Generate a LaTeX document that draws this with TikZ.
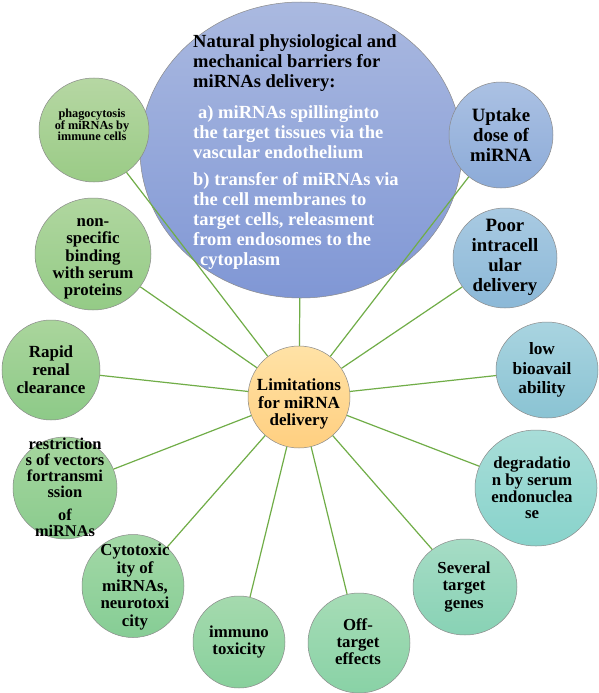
\documentclass[tikz,border=0pt]{standalone}
\usepackage{fontspec}
\setmainfont{Liberation Serif}
\usetikzlibrary{shapes.geometric}
\definecolor{linkgreen}{HTML}{70AD47}
\definecolor{rimgray}{HTML}{8A8A8A}
\definecolor{bigT}{HTML}{AAB9E0}\definecolor{bigB}{HTML}{8097D5}
\definecolor{ctrT}{HTML}{FFE2A6}\definecolor{ctrB}{HTML}{FFCF80}
\definecolor{phT}{HTML}{B6D7A3}\definecolor{phB}{HTML}{9ACB86}
\definecolor{nsT}{HTML}{B0D69F}\definecolor{nsB}{HTML}{94CB86}
\definecolor{rrT}{HTML}{AAD59C}\definecolor{rrB}{HTML}{8DCA88}
\definecolor{reT}{HTML}{A6D69E}\definecolor{reB}{HTML}{8ACB8E}
\definecolor{cyT}{HTML}{A3D8A6}\definecolor{cyB}{HTML}{86CD95}
\definecolor{imT}{HTML}{A5DAAE}\definecolor{imB}{HTML}{88D09C}
\definecolor{ofT}{HTML}{A6DCB6}\definecolor{ofB}{HTML}{89D2A6}
\definecolor{svT}{HTML}{A6DCC5}\definecolor{svB}{HTML}{88D2B5}
\definecolor{dgT}{HTML}{A8DDD8}\definecolor{dgB}{HTML}{88D3CB}
\definecolor{lbT}{HTML}{A9D4E0}\definecolor{lbB}{HTML}{8AC3D3}
\definecolor{pwT}{HTML}{A9CAE2}\definecolor{pwB}{HTML}{8BB8D7}
\definecolor{upT}{HTML}{ABC1E3}\definecolor{upB}{HTML}{8CABD8}
\tikzset{
  bub/.style n args={4}{ellipse, draw=rimgray, line width=0.5pt,
    top color=#1, bottom color=#2, minimum width=#3, minimum height=#4, inner sep=0pt},
  txt/.style 2 args={font={\bfseries\fontsize{#1}{#2}\selectfont}, align=center, inner sep=0pt},
  bigtxt/.style={font={\bfseries\fontsize{18.5}{20}\selectfont}, align=left, inner sep=0pt, anchor=west},
  link/.style={draw=linkgreen, line width=1.2pt}
}
\begin{document}
\begin{tikzpicture}[x=1pt,y=-1pt]
\path[use as bounding box, fill=white] (0,0) rectangle (598,693);
% shapes
\node[bub={bigT}{bigB}{322pt}{296pt}] (big) at (301,150) {};
\node[bub={ctrT}{ctrB}{102pt}{102pt}] (ctr) at (299,397) {};
\node[bub={phT}{phB}{110pt}{104pt}] (ph) at (94,130) {};
\node[bub={nsT}{nsB}{116pt}{112pt}] (ns) at (93,254) {};
\node[bub={rrT}{rrB}{98pt}{100pt}] (rr) at (51,370) {};
\node[bub={reT}{reB}{104pt}{102pt}] (re) at (65,488) {};
\node[bub={cyT}{cyB}{102pt}{103pt}] (cy) at (133,586) {};
\node[bub={imT}{imB}{92pt}{92pt}] (im) at (239,642) {};
\node[bub={ofT}{ofB}{102pt}{100pt}] (of) at (359,643) {};
\node[bub={svT}{svB}{104pt}{96pt}] (sv) at (465,587) {};
\node[bub={dgT}{dgB}{122pt}{116pt}] (dg) at (536,488) {};
\node[bub={lbT}{lbB}{102pt}{96pt}] (lb) at (547,370) {};
\node[bub={pwT}{pwB}{104pt}{100pt}] (pw) at (505,258) {};
\node[bub={upT}{upB}{104pt}{106pt}] (up) at (501,135) {};
% connectors
\foreach \n in {big,ph,ns,rr,re,cy,im,of,sv,dg,lb,pw,up}
  \draw[link] (ctr) -- (\n);
% texts in the large ellipse
\node[bigtxt] (tTitle) at (193,63) {Natural physiological and\\mechanical barriers for\\miRNAs delivery:};
\node[bigtxt, text=white] (tA) at (193,132) {\hspace{5pt}a) miRNAs spillinginto\\the target tissues via the\\vascular endothelium};
\node[bigtxt, text=white] (tB) at (193,209) {b) transfer of miRNAs via\\the cell membranes to\\target cells, releasment\\from endosomes to the};
\node[bigtxt, text=white] (tC) at (200,261) {cytoplasm};
% texts in bubbles
\node[txt={17}{17.5}] (tctr) at (299,404) {Limitations\\for miRNA\\delivery};
\node[txt={12.3}{11.5}] (tph) at (92,125) {phagocytosis\\of miRNAs by\\immune cells};
\node[txt={16.8}{17.3}] (tns) at (93,259) {non-\\specific\\binding\\with serum\\proteins};
\node[txt={17}{18}] (trr) at (51,370) {Rapid\\renal\\clearance};
\node[txt={16.5}{16}] (tre) at (65,468) {restriction\\s of vectors\\fortransmi\\ssion};
\node[txt={16.3}{16.5}] (tre2) at (65,523) {of\\miRNAs};
\node[txt={16.8}{17.7}] (tcy) at (135,587) {Cytotoxic\\ity of\\miRNAs,\\neurotoxi\\city};
\node[txt={16.8}{17}] (tim) at (239,642) {immuno\\toxicity};
\node[txt={16.8}{17}] (tof) at (358,642) {Off-\\target\\effects};
\node[txt={16.8}{17.5}] (tsv) at (464,587) {Several\\target\\genes};
\node[txt={16.8}{16.7}] (tdg) at (532,488) {degradatio\\n by serum\\endonuclea\\se};
\node[txt={17.3}{19.5}] (tlb) at (542,370) {low\\bioavail\\ability};
\node[txt={18.8}{20}] (tpw) at (505,257) {Poor\\intracell\\ular\\delivery};
\node[txt={18.8}{20}] (tup) at (501,135) {Uptake\\dose of\\miRNA};
\end{tikzpicture}
\end{document}
